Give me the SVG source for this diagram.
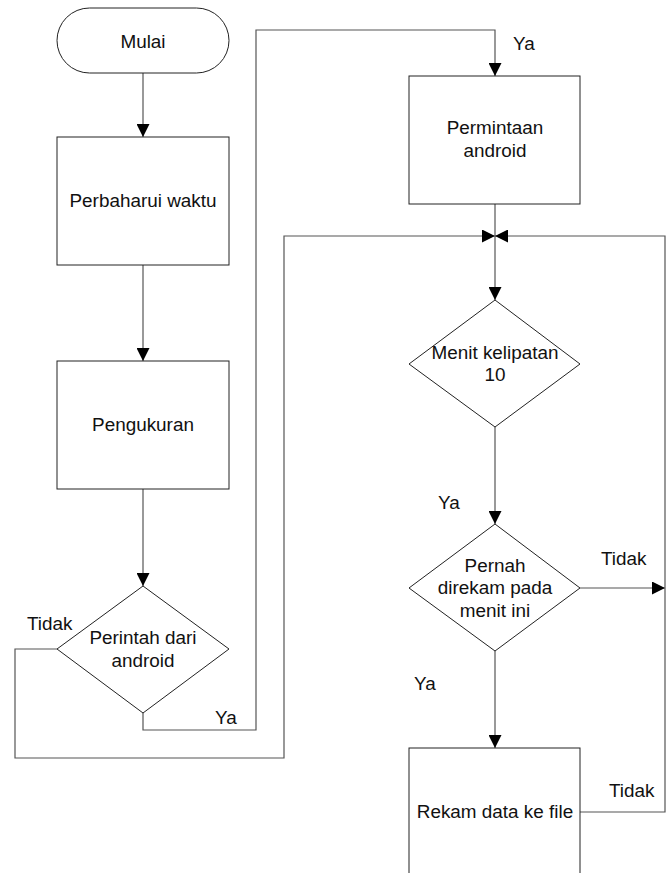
<svg xmlns="http://www.w3.org/2000/svg" width="672" height="873" viewBox="0 0 672 873">
<style>
.shape{fill:#fff;stroke:#222;stroke-width:1}
.conn{fill:none;stroke:#555;stroke-width:1.2}
text{font-family:"Liberation Sans",Arial,sans-serif;font-size:18.9px;fill:#111;text-anchor:middle}
.lbl{text-anchor:start}
</style>
<defs>
<marker id="arr" markerUnits="userSpaceOnUse" markerWidth="13" markerHeight="13" refX="12" refY="6" orient="auto" viewBox="0 0 12 12">
<path d="M0,0 L12,6 L0,12 z" fill="#000"/>
</marker>
</defs>
<rect width="672" height="873" fill="#fff"/>
<g id="connectors">
<path class="conn" d="M143,73 V137" marker-end="url(#arr)"/>
<path class="conn" d="M143,265 V361" marker-end="url(#arr)"/>
<path class="conn" d="M143,489 V586" marker-end="url(#arr)"/>
<path class="conn" d="M143,713 V730 H256 V30 H495 V76" marker-end="url(#arr)"/>
<path class="conn" d="M57,649 H15 V758 H284 V236 H495" marker-end="url(#arr)"/>
<path class="conn" d="M495,204 V300" marker-end="url(#arr)"/>
<path class="conn" d="M495,427 V524" marker-end="url(#arr)"/>
<path class="conn" d="M580,588 H665" marker-end="url(#arr)"/>
<path class="conn" d="M495,651 V748" marker-end="url(#arr)"/>
<path class="conn" d="M580,812 H665 V236 H495" marker-end="url(#arr)"/>
<text class="lbl" x="215" y="724">Ya</text>
<text class="lbl" x="27" y="630">Tidak</text>
<text class="lbl" x="513" y="50">Ya</text>
<text class="lbl" x="438" y="509">Ya</text>
<text class="lbl" x="601" y="565">Tidak</text>
<text class="lbl" x="414" y="690">Ya</text>
<text class="lbl" x="609" y="797">Tidak</text>
</g>
<g id="mulai">
<rect class="shape" x="57" y="8" width="172" height="65" rx="32.5" ry="32.5"/>
<text x="143" y="48">Mulai</text>
</g>
<g id="perbaharui">
<rect class="shape" x="57" y="137" width="172" height="128"/>
<text x="143" y="207">Perbaharui waktu</text>
</g>
<g id="pengukuran">
<rect class="shape" x="57" y="361" width="172" height="128"/>
<text x="143" y="431">Pengukuran</text>
</g>
<g id="perintah">
<polygon class="shape" points="143,586 229,649 143,713 57,649"/>
<text x="143" y="644">Perintah dari</text>
<text x="143" y="667">android</text>
</g>
<g id="permintaan">
<rect class="shape" x="409" y="76" width="171" height="128"/>
<text x="495" y="134">Permintaan</text>
<text x="495" y="157">android</text>
</g>
<g id="menit">
<polygon class="shape" points="495,300 580,364 495,427 409,364"/>
<text x="495" y="359">Menit kelipatan</text>
<text x="495" y="381">10</text>
</g>
<g id="pernah">
<polygon class="shape" points="495,524 580,588 495,651 409,588"/>
<text x="495" y="572">Pernah</text>
<text x="495" y="594">direkam pada</text>
<text x="495" y="617">menit ini</text>
</g>
<g id="rekam">
<rect class="shape" x="409" y="748" width="171" height="128"/>
<text x="495" y="818">Rekam data ke file</text>
</g>
</svg>
